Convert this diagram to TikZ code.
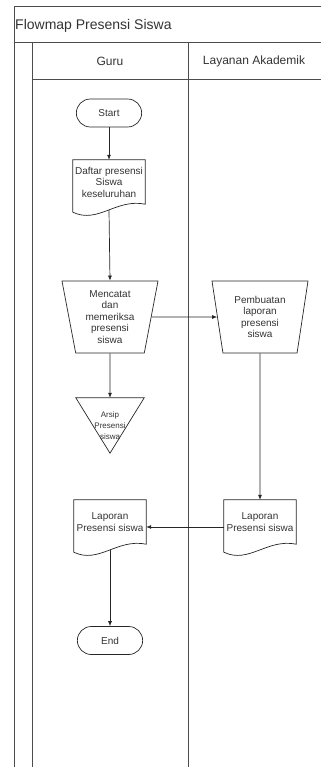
\documentclass[tikz,border=0pt]{standalone}
\usepackage{fontspec}
\setmainfont{Liberation Sans}
\usetikzlibrary{shapes.geometric,shapes.misc,arrows.meta}
\begin{document}
\begin{tikzpicture}[x=1pt,y=-1pt,
  every node/.style={font=\fontsize{10}{11.5}\selectfont,text=black!80,align=center},
  frame/.style={draw=black!70,line width=1pt},
  garis/.style={draw=black!85,line width=.7pt},
  arr/.style={garis,-{Latex[length=5pt,width=4pt]}},
  terminal/.style={garis,rounded rectangle,minimum width=72pt,minimum height=28pt},
  prosesbox/.style={garis,trapezium,shape border rotate=180,trapezium stretches body,
    trapezium left angle=76,trapezium right angle=76,minimum width=96pt,minimum height=72pt,inner sep=1pt},
  docbox/.style={minimum width=72pt,minimum height=44pt,inner sep=1pt,
    append after command={\pgfextra{\draw[garis]
      ([yshift=-8pt]\tikzlastnode.south west) -- (\tikzlastnode.north west) -- (\tikzlastnode.north east)
      -- (\tikzlastnode.south east)
      .. controls ([xshift=-29pt,yshift=6pt]\tikzlastnode.south east) and ([xshift=25pt,yshift=-20pt]\tikzlastnode.south west)
      .. ([yshift=-8pt]\tikzlastnode.south west);}}},
  arsipbox/.style={minimum width=68pt,minimum height=55pt,inner sep=0pt,font=\fontsize{8}{11}\selectfont,
    append after command={\pgfextra{\draw[garis]
      (\tikzlastnode.north west) -- (\tikzlastnode.north east) -- (\tikzlastnode.south) -- cycle;}}}]
\useasboundingbox (0,0) rectangle (321,767);
\draw[frame] (321,7) -- (14,7) -- (14,767);
\draw[frame] (14,43) -- (321,43);
\draw[frame] (32,43) -- (32,767);
\draw[frame] (188,43) -- (188,767);
\draw[frame] (32,80) -- (321,80);
\node[anchor=west,inner sep=0pt,font=\fontsize{14}{16}\selectfont] (judul) at (15,26) {Flowmap Presensi Siswa};
\node[font=\fontsize{12}{14}\selectfont] (guru) at (110,61) {Guru};
\node[font=\fontsize{12}{14}\selectfont] (akademik) at (254,61) {Layanan Akademik};
\node[terminal] (start) at (109,113) {Start};
\node[docbox] (daftar) at (109,182) {Daftar presensi\\Siswa\\keseluruhan};
\node[prosesbox] (mencatat) at (110,317) {Mencatat\\dan\\memeriksa\\presensi\\siswa};
\node[prosesbox] (pembuatan) at (260,317) {Pembuatan\\laporan\\presensi\\siswa};
\node[arsipbox] (arsip) at (110,425.5) {Arsip\\Presensi\\siswa};
\node[docbox] (lapak) at (260,522) {Laporan\\Presensi siswa};
\node[docbox] (lapguru) at (110,522) {Laporan\\Presensi siswa};
\node[terminal] (end) at (110,640.5) {End};
\foreach \a/\b in {start.south/daftar.north,mencatat.east/pembuatan.west,
    mencatat.south/arsip.north,pembuatan.south/lapak.north}
  \draw[arr] (\a) -- (\b);
\draw[arr] ([yshift=-6pt]daftar.south) -- (mencatat.north);
\draw[arr] ([yshift=-5pt]lapak.west) -- ([yshift=-5pt]lapguru.east);
\draw[arr] ([yshift=-6pt]lapguru.south) -- (end.north);
\end{tikzpicture}
\end{document}
